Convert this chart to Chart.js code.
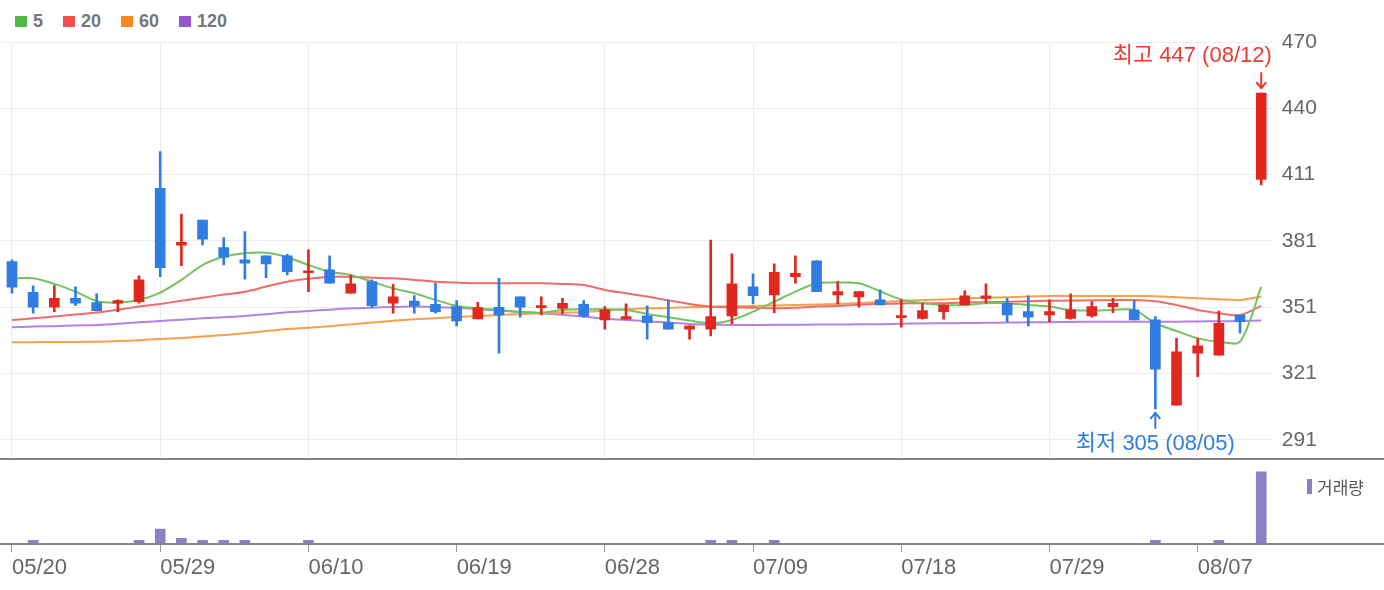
<!DOCTYPE html>
<html lang="ko">
<head>
<meta charset="utf-8">
<title>일봉 차트</title>
<script src="https://cdn.jsdelivr.net/npm/chart.js@4.4.1/dist/chart.umd.min.js"></script>
<style>
    body { margin: 0; background: #fff; }
    #wrap { position: relative; width: 1384px; height: 590px; overflow: hidden; }
    #price-chart { position: absolute; left: 0; top: 0; }
    #volume-chart { position: absolute; left: 0; top: 460px; }
    #ma-legend { position: absolute; left: 15px; top: 11px; display: flex; align-items: center;
        font: bold 18px "Liberation Sans", Arial, sans-serif; color: #777; }
    .legend-item { display: flex; align-items: center; margin-right: 20px; }
    .legend-color-box { width: 12px; height: 11px; margin-right: 6px; }
    #volume-legend { position: absolute; left: 1307px; top: 474px; display: flex; align-items: center;
        font: 17px "Noto Sans CJK KR", sans-serif; color: #555; }
    #volume-legend .mark { width: 5px; height: 15px; background: #8f7fc7; margin-right: 5px; }
</style>
</head>
<body>
<div id="wrap">
    <div id="ma-legend"></div>
    <canvas id="price-chart" width="1384" height="460"></canvas>
    <canvas id="volume-chart" width="1384" height="130"></canvas>
    <div id="volume-legend"><span class="mark"></span><span>거래량</span></div>
</div>
<script>
// --- Dữ liệu: 60 phiên giao dịch (05/20 ~ 08/12) ---
const dates = [
    '05/20','05/21','05/22','05/23','05/24','05/27','05/28','05/29','05/30','05/31',
    '06/03','06/04','06/05','06/07','06/10','06/11','06/12','06/13','06/14','06/17',
    '06/18','06/19','06/20','06/21','06/24','06/25','06/26','06/27','06/28','07/01',
    '07/02','07/03','07/04','07/05','07/08','07/09','07/10','07/11','07/12','07/15',
    '07/16','07/17','07/18','07/19','07/22','07/23','07/24','07/25','07/26','07/29',
    '07/30','07/31','08/01','08/02','08/05','08/06','08/07','08/08','08/09','08/12'
];

const openPrices = [
    371.2, 357.4, 350.7, 354.7, 352.8, 352.5, 353.2, 404.2, 378.6, 389.9,
    377.5, 372.0, 373.8, 373.8, 366.2, 367.5, 357.0, 362.2, 352.5, 353.5,
    352.0, 351.0, 345.4, 350.7, 355.4, 350.5, 350.2, 352.0, 345.0, 345.3,
    346.8, 343.8, 340.8, 340.8, 346.8, 359.9, 356.2, 364.4, 371.6, 356.2,
    355.4, 354.0, 346.0, 345.7, 348.7, 351.7, 354.7, 352.5, 348.7, 347.2,
    345.7, 346.8, 351.0, 349.5, 345.0, 306.7, 330.0, 329.2, 347.2, 408.2
];
const highPrices = [
    372.0, 360.3, 360.4, 359.9, 356.7, 354.0, 364.8, 420.7, 392.6, 389.9,
    382.0, 384.7, 373.8, 374.5, 376.5, 373.8, 365.2, 363.0, 361.0, 355.9,
    361.5, 353.7, 352.9, 363.7, 355.4, 355.4, 354.7, 353.7, 351.0, 352.2,
    351.3, 354.0, 342.4, 380.9, 374.7, 365.7, 370.2, 373.8, 371.6, 362.2,
    357.7, 358.5, 354.0, 352.5, 351.7, 358.1, 361.2, 354.7, 355.8, 354.0,
    356.7, 353.2, 354.7, 353.7, 346.5, 336.7, 336.7, 349.0, 347.2, 447
];
const lowPrices = [
    357.0, 348.0, 348.7, 351.4, 349.0, 348.7, 352.5, 364.4, 369.4, 378.7,
    369.7, 363.3, 364.0, 365.2, 357.7, 361.5, 357.0, 350.5, 348.0, 348.0,
    348.0, 342.3, 345.4, 330.0, 346.2, 347.2, 347.7, 346.2, 340.8, 345.3,
    336.3, 340.8, 336.3, 337.8, 343.2, 352.2, 348.3, 361.5, 357.7, 352.2,
    350.7, 351.7, 341.7, 345.3, 345.3, 351.7, 352.5, 344.2, 342.3, 344.2,
    345.3, 346.2, 348.3, 345.0, 305, 306.7, 319.5, 329.2, 339.0, 405.7
];
const closePrices = [
    359.7, 350.7, 354.7, 352.5, 349.2, 353.7, 363.0, 368.5, 379.9, 381.3,
    373.2, 370.5, 370.2, 366.7, 367.1, 361.5, 361.2, 351.4, 355.4, 351.3,
    348.7, 344.5, 350.5, 347.2, 350.7, 351.4, 352.5, 346.8, 349.5, 346.5,
    343.8, 340.8, 342.4, 346.5, 361.2, 355.9, 366.4, 366.0, 357.7, 357.7,
    357.7, 351.7, 346.8, 349.2, 351.7, 355.8, 355.8, 347.2, 346.2, 348.7,
    349.5, 351.0, 352.5, 345.0, 322.8, 330.7, 333.3, 343.5, 344.2, 447
];

const volumes = [
    4, 45, 5, 3, 4, 6, 45, 179, 68, 45,
    45, 45, 5, 4, 45, 5, 3, 4, 5, 3,
    4, 5, 3, 6, 4, 3, 4, 5, 4, 3,
    5, 4, 6, 45, 45, 5, 45, 4, 6, 3,
    4, 5, 3, 4, 3, 5, 4, 3, 4, 5,
    3, 4, 3, 5, 45, 8, 6, 45, 7, 860
];

// Đường trung bình động
const ma5 = [
    363.7, 363.7, 361.2, 357.7, 353.5, 352.8, 354.0, 357.3, 363.0, 369.7,
    373.4, 375.0, 375.2, 373.2, 369.7, 366.7, 365.2, 362.2, 359.2, 357.0,
    354.0, 351.3, 350.2, 349.5, 348.7, 348.3, 349.5, 349.8, 349.8, 349.5,
    347.7, 346.2, 344.7, 343.5, 345.0, 348.7, 353.2, 357.7, 361.5, 361.8,
    361.5, 357.9, 354.2, 352.5, 351.7, 351.7, 352.5, 352.5, 351.7, 351.0,
    349.5, 349.2, 349.5, 349.5, 343.5, 340.0, 336.7, 335.2, 335.2, 359.9
];
const ma20 = [
    345.0, 345.7, 346.5, 347.4, 348.3, 349.6, 351.0, 352.2, 353.6, 355.0,
    356.4, 357.7, 360.0, 362.2, 363.5, 364.4, 364.4, 364.0, 363.7, 363.0,
    362.2, 361.8, 361.5, 361.5, 361.5, 361.5, 361.2, 360.7, 358.5, 357.0,
    355.5, 353.8, 352.2, 351.0, 350.7, 350.5, 350.2, 350.5, 351.0, 351.3,
    351.8, 352.2, 352.4, 352.5, 352.5, 352.8, 353.0, 353.2, 353.4, 353.6,
    353.7, 353.8, 353.9, 354.0, 353.4, 351.7, 349.5, 348.0, 347.2, 351.3
];
const ma60 = [
    335.0, 335.0, 335.1, 335.1, 335.2, 335.5, 335.9, 336.4, 336.9, 337.5,
    338.2, 339.0, 340.0, 340.9, 341.5, 342.2, 343.0, 343.8, 344.6, 345.3,
    345.8, 346.3, 346.8, 347.2, 347.6, 348.0, 348.3, 348.5, 349.2, 349.8,
    350.2, 350.4, 350.7, 350.9, 351.1, 351.3, 351.5, 351.7, 351.9, 352.2,
    352.6, 353.0, 353.5, 353.9, 354.2, 354.7, 355.0, 355.2, 355.5, 355.8,
    355.8, 355.8, 355.8, 355.8, 355.6, 355.2, 354.8, 354.3, 354.0, 355.5
];
const ma120 = [
    341.7, 342.0, 342.2, 342.5, 342.7, 343.3, 343.9, 344.5, 345.1, 345.7,
    346.2, 346.8, 347.6, 348.4, 349.0, 349.6, 350.2, 350.5, 350.8, 351.0,
    350.8, 350.5, 349.8, 349.2, 348.6, 348.0, 347.3, 346.5, 345.5, 345.0,
    344.4, 343.8, 343.2, 342.9, 342.7, 342.7, 342.8, 342.8, 342.9, 342.9,
    343.0, 343.1, 343.3, 343.4, 343.5, 343.6, 343.7, 343.8, 343.9, 344.0,
    344.1, 344.2, 344.2, 344.2, 344.2, 344.2, 344.3, 344.4, 344.5, 344.7
];

const maNames = ['5', '20', '60', '120'];
const priceTicks = [291, 321, 351, 381, 411, 440, 470];

// --- Màu sắc ---
const UP_COLOR = '#e2281e';
const DOWN_COLOR = '#2f7ce2';
const MA_LEGEND_COLORS = ['#4fb848', '#ef4f4f', '#f5881f', '#9457cf'];
const MA_LINE_COLORS = ['#72c45f', '#f26b6b', '#f7a04d', '#b383e3'];
const VOLUME_COLOR = '#8f7fc7';
const GRID_COLOR = '#ececec';
const TICK_FONT = '"Liberation Sans", Arial, sans-serif';

const isUp = i => closePrices[i] >= openPrices[i];
const candleColor = ctx => isUp(ctx.dataIndex) ? UP_COLOR : DOWN_COLOR;

/**
 * Chú thích MA tự tạo ở góc trên.
 */
function renderLegend() {
    document.getElementById('ma-legend').innerHTML = maNames.map((name, i) => `
        <div class="legend-item">
            <div class="legend-color-box" style="background-color: ${MA_LEGEND_COLORS[i]};"></div>
            <span>${name}</span>
        </div>`).join('');
}

// Vẽ mũi tên nhỏ (dir = 1: chỉ xuống, -1: chỉ lên)
function drawArrow(ctx, x, tipY, dir) {
    const len = 16;
    ctx.beginPath();
    ctx.moveTo(x, tipY - dir * len);
    ctx.lineTo(x, tipY);
    ctx.moveTo(x - 5, tipY - dir * 6);
    ctx.lineTo(x, tipY);
    ctx.lineTo(x + 5, tipY - dir * 6);
    ctx.stroke();
}

// Plugin: nhãn giá cao nhất / thấp nhất + đường phân cách dưới
const extremesPlugin = {
    id: 'extremes',
    afterDraw(chart) {
        const { ctx, chartArea, scales: { x, y } } = chart;
        const hiIdx = highPrices.indexOf(Math.max(...highPrices));
        const loIdx = lowPrices.indexOf(Math.min(...lowPrices));

        ctx.save();
        ctx.lineWidth = 2;
        ctx.font = '22px "Liberation Sans", "Noto Sans CJK KR", sans-serif';
        ctx.textBaseline = 'middle';

        // giá cao nhất
        const hx = x.getPixelForValue(hiIdx);
        const hy = y.getPixelForValue(highPrices[hiIdx]);
        ctx.strokeStyle = ctx.fillStyle = '#ee3a32';
        drawArrow(ctx, hx, hy - 5, 1);
        const hiText = `최고 ${highPrices[hiIdx]} (${dates[hiIdx]})`;
        const hw = ctx.measureText(hiText).width;
        ctx.textAlign = hx + hw / 2 > chartArea.right ? 'right' : 'center';
        ctx.fillText(hiText, ctx.textAlign === 'right' ? chartArea.right : hx, hy - 37);

        // giá thấp nhất
        const lx = x.getPixelForValue(loIdx);
        const ly = y.getPixelForValue(lowPrices[loIdx]);
        ctx.strokeStyle = ctx.fillStyle = '#2f7fe0';
        drawArrow(ctx, lx, ly + 4, -1);
        const loText = `최저 ${lowPrices[loIdx]} (${dates[loIdx]})`;
        const lw = ctx.measureText(loText).width;
        ctx.textAlign = lx + lw / 2 > chartArea.right ? 'right' : 'center';
        ctx.fillText(loText, ctx.textAlign === 'right' ? chartArea.right : lx, ly + 35);

        // đường phân cách giữa 2 khung
        ctx.strokeStyle = '#858585';
        ctx.beginPath();
        ctx.moveTo(0, chartArea.bottom);
        ctx.lineTo(chart.width, chartArea.bottom);
        ctx.stroke();
        ctx.restore();
    }
};

// Plugin: trục ngang kéo dài hết chiều rộng cho khung khối lượng
const baselinePlugin = {
    id: 'baseline',
    afterDraw(chart) {
        const { ctx, chartArea } = chart;
        ctx.save();
        ctx.strokeStyle = '#858585';
        ctx.lineWidth = 2;
        ctx.beginPath();
        ctx.moveTo(0, chartArea.bottom);
        ctx.lineTo(chart.width, chartArea.bottom);
        ctx.stroke();
        ctx.restore();
    }
};

/**
 * Khởi tạo biểu đồ nến + MA.
 */
function initializePriceChart() {
    const ctx = document.getElementById('price-chart').getContext('2d');
    const maDatasets = [ma5, ma20, ma60, ma120].map((data, i) => ({
        type: 'line',
        label: maNames[i],
        data,
        borderColor: MA_LINE_COLORS[i],
        borderWidth: 2,
        pointRadius: 0,
        tension: 0.3,
        order: 2 + i
    }));

    new Chart(ctx, {
        type: 'bar',
        data: {
            labels: dates,
            datasets: [
                {
                    label: 'body',
                    data: dates.map((_, i) => [openPrices[i], closePrices[i]]),
                    backgroundColor: candleColor,
                    barThickness: 10,
                    minBarLength: 2,
                    grouped: false,
                    order: 0
                },
                {
                    label: 'wick',
                    data: dates.map((_, i) => [lowPrices[i], highPrices[i]]),
                    backgroundColor: candleColor,
                    barThickness: 2,
                    grouped: false,
                    order: 1
                },
                ...maDatasets
            ]
        },
        options: {
            responsive: false,
            animation: false,
            events: [],
            layout: { padding: { top: 42, bottom: 1, left: 1.4, right: 0 } },
            plugins: { legend: { display: false }, tooltip: { enabled: false } },
            scales: {
                x: {
                    offset: true,
                    border: { display: false },
                    grid: {
                        offset: false,
                        drawTicks: false,
                        color: c => c.index % 7 === 0 ? GRID_COLOR : 'transparent'
                    },
                    ticks: { display: false, autoSkip: false },
                    afterFit: scale => { scale.height = 0; }
                },
                y: {
                    position: 'right',
                    min: 282.45,
                    max: 470,
                    border: { display: false },
                    grid: { color: GRID_COLOR, drawTicks: false },
                    afterBuildTicks: axis => {
                        const n = priceTicks.length;
                        const lo = priceTicks[0], hi = priceTicks[n - 1];
                        axis.ticks = priceTicks.map((_, k) => ({ value: lo + k * (hi - lo) / (n - 1) }));
                    },
                    ticks: {
                        padding: 10,
                        color: '#666',
                        font: { family: TICK_FONT, size: 21 },
                        callback: (value, index) => priceTicks[index]
                    },
                    afterFit: scale => {
                        scale.width = 112.2;
                        // không để nhãn đầu/cuối đẩy vùng vẽ vào trong
                        scale.paddingTop = 0;
                        scale.paddingBottom = 0;
                    }
                }
            }
        },
        plugins: [extremesPlugin]
    });
}

/**
 * Khởi tạo biểu đồ khối lượng giao dịch.
 */
function initializeVolumeChart() {
    const ctx = document.getElementById('volume-chart').getContext('2d');
    new Chart(ctx, {
        type: 'bar',
        data: {
            labels: dates,
            datasets: [{
                label: '거래량',
                data: volumes,
                backgroundColor: VOLUME_COLOR,
                barThickness: 10
            }]
        },
        options: {
            responsive: false,
            animation: false,
            events: [],
            layout: { padding: { top: 0, bottom: 0, left: 1.4, right: 112.2 } },
            plugins: { legend: { display: false }, tooltip: { enabled: false } },
            scales: {
                x: {
                    offset: true,
                    border: { display: false },
                    grid: {
                        offset: false,
                        drawOnChartArea: false,
                        tickLength: 8,
                        color: c => c.index % 7 === 0 ? '#999' : 'transparent'
                    },
                    ticks: {
                        autoSkip: false,
                        maxRotation: 0,
                        minRotation: 0,
                        align: 'start',
                        padding: 3,
                        color: '#666',
                        font: { family: TICK_FONT, size: 22 },
                        callback: (value, index) => index % 7 === 0 ? dates[index] : ''
                    },
                    afterFit: scale => { scale.height = 46; }
                },
                y: {
                    display: false,
                    min: 0,
                    max: 1000
                }
            }
        },
        plugins: [baselinePlugin]
    });
}

renderLegend();
initializePriceChart();
initializeVolumeChart();
</script>
</body>
</html>
